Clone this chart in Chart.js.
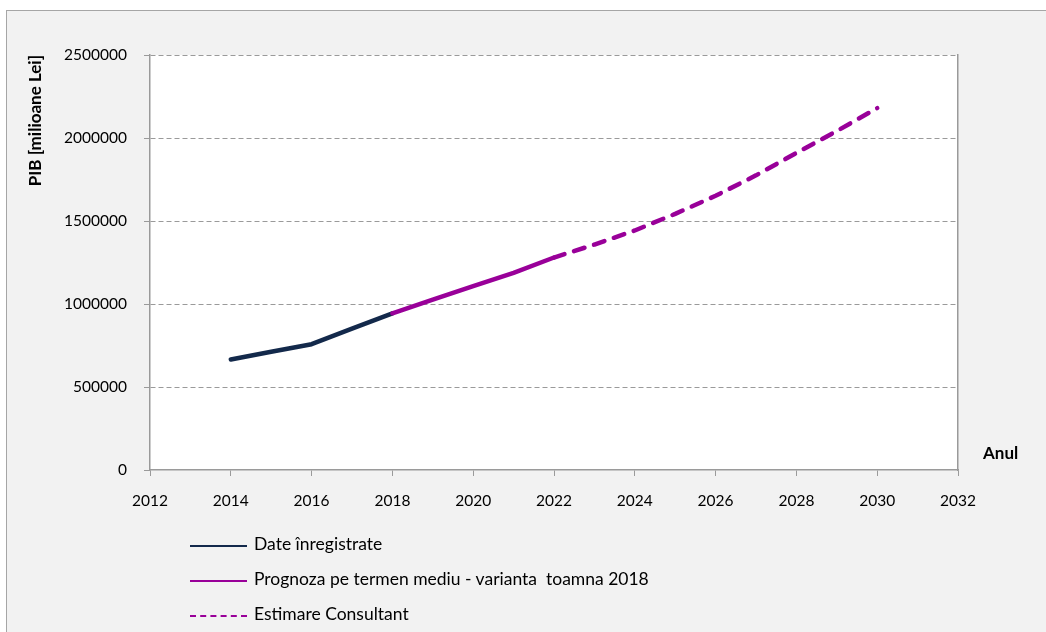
<!DOCTYPE html>
<html>
<head>
<meta charset="utf-8">
<script src="https://cdn.jsdelivr.net/npm/chart.js@4"></script>
<style>
  body { margin: 0; background: #fff; width: 1046px; height: 632px; overflow: hidden; position: relative; font-family: Lato, "Open Sans", sans-serif; }
  #frame { position: absolute; left: 6px; top: 10px; width: 1060px; height: 640px; background: #f2f2f2; border: 1.5px solid #a6a6a6; }
  #chartBox { position: absolute; left: 0; top: 0; width: 1046px; height: 632px; }
  #axisX { position: absolute; left: 983px; top: 442px; font-weight: bold; font-size: 17px; color: #000; }
  #legend { position: absolute; left: 190px; top: 533px; font-size: 17.5px; color: #000; }
  .item { height: 35px; display: flex; align-items: flex-start; white-space: pre; }
  .swatch { width: 57px; height: 0; margin-top: 12px; margin-right: 7px; }
</style>
</head>
<body>
<div id="frame"></div>
<div id="chartBox"><canvas id="pibChart" width="1046" height="632"></canvas></div>
<div id="axisX">Anul</div>
<div id="legend"></div>
<script>
// Date PIB (milioane lei)
const aniInregistrate = [2014, 2015, 2016, 2017, 2018];
const pibInregistrat = [666000, 712000, 758000, 852000, 944000];

const aniPrognoza = [2018, 2019, 2020, 2021, 2022];
const pibPrognoza = [944000, 1026000, 1107000, 1188000, 1280000];

const aniEstimare = [2022, 2023, 2024, 2025, 2026, 2027, 2028, 2029, 2030];
const pibEstimare = [1280000, 1358000, 1443000, 1543000, 1652000, 1775000, 1910000, 2042000, 2180000];

const etichete = ["Date înregistrate", "Prognoza pe termen mediu - varianta  toamna 2018", "Estimare Consultant"];
const culori = ["#13294b", "#990099", "#990099"];

const toPoints = (xs, ys) => xs.map((x, i) => ({ x: x, y: ys[i] }));

const gri = "#9a9a9a";
const fontTick = { family: "Lato", size: 15.5 };

// fundal alb pentru zona graficului
const plotBg = {
  id: "plotBg",
  beforeDraw(chart) {
    const a = chart.chartArea;
    chart.ctx.save();
    chart.ctx.fillStyle = "#ffffff";
    chart.ctx.fillRect(a.left, a.top, a.right - a.left, a.bottom - a.top);
    chart.ctx.restore();
  },
};

new Chart(document.getElementById("pibChart"), {
  type: "line",
  data: {
    datasets: [
      {
        label: etichete[0],
        data: toPoints(aniInregistrate, pibInregistrat),
        borderColor: culori[0],
        order: 3,
      },
      {
        label: etichete[1],
        data: toPoints(aniPrognoza, pibPrognoza),
        borderColor: culori[1],
        order: 2,
      },
      {
        label: etichete[2],
        data: toPoints(aniEstimare, pibEstimare),
        borderColor: culori[2],
        borderDash: [11, 10],
        order: 1,
      },
    ],
  },
  options: {
    responsive: false,
    animation: false,
    events: [],
    layout: { padding: { left: 20, top: 55, right: 88, bottom: 112 } },
    elements: {
      point: { radius: 0 },
      line: { borderWidth: 4.5, tension: 0, borderCapStyle: "round", borderJoinStyle: "round", fill: false },
    },
    plugins: { legend: { display: false }, tooltip: { enabled: false } },
    scales: {
      x: {
        type: "linear",
        min: 2012,
        max: 2032,
        ticks: { stepSize: 2, color: "#000", font: fontTick, padding: 16, callback: (v) => String(v) },
        grid: { drawOnChartArea: false, drawTicks: true, tickLength: 6, color: gri, tickColor: gri },
        border: { color: gri, width: 1.5 },
        afterFit: (s) => { s.height = 50; },
      },
      y: {
        min: 0,
        max: 2500000,
        ticks: { stepSize: 500000, color: "#000", font: fontTick, padding: 17, callback: (v) => String(v) },
        grid: {
          color: (c) => (c.tick && c.tick.value === 0 ? "rgba(0,0,0,0)" : gri),
          tickColor: gri,
          tickLength: 6,
          lineWidth: 1,
        },
        border: { color: gri, width: 1.5, dash: [5, 3] },
        title: {
          display: true,
          text: "PIB [milioane Lei]",
          align: "end",
          color: "#000",
          font: { family: "Lato", size: 17, weight: "bold" },
          padding: { top: 5, bottom: 0 },
        },
        afterFit: (s) => { s.width = 130; },
      },
      y2: {
        position: "right",
        min: 0,
        max: 2500000,
        ticks: { display: false },
        grid: { drawOnChartArea: false, drawTicks: false },
        border: { color: gri, width: 1.5 },
        afterFit: (s) => { s.width = 0; },
      },
    },
  },
  plugins: [plotBg],
});

// legenda verticala
const legend = document.getElementById("legend");
etichete.forEach((text, i) => {
  const row = document.createElement("div");
  row.className = "item";
  const sw = document.createElement("div");
  sw.className = "swatch";
  sw.style.borderTop = "2.5px " + (i === 2 ? "dashed " : "solid ") + culori[i];
  const label = document.createElement("span");
  label.textContent = text;
  row.appendChild(sw);
  row.appendChild(label);
  legend.appendChild(row);
});
</script>
</body>
</html>
